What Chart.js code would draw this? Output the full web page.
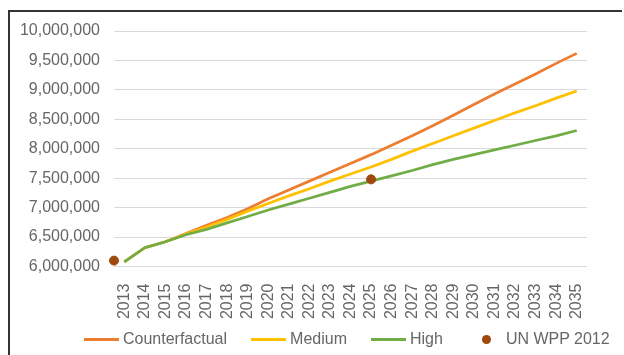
<!DOCTYPE html>
<html>
<head>
<meta charset="utf-8">
<script src="https://cdn.jsdelivr.net/npm/chart.js@4/dist/chart.umd.min.js"></script>
<style>
  html, body { margin: 0; padding: 0; background: #fff; }
  #wrap { position: relative; width: 624px; height: 355px; overflow: hidden; }
  #frame { position: absolute; left: 8px; top: 10px; width: 614px; height: 350px;
           border-left: 2px solid #333; border-top: 2px solid #333; box-sizing: border-box; }
  canvas { position: absolute; left: 0; top: 0; }
  #legend { position: absolute; left: 84px; top: 328px; height: 22px; display: flex; align-items: center;
            font-family: 'Liberation Sans', Arial, sans-serif; font-size: 16px; color: #666; white-space: nowrap; }
  .item { display: flex; align-items: center; }
  .swatch { width: 35px; height: 3px; margin-right: 4px; }
  .dot { width: 9px; height: 9px; border-radius: 50%; margin-left: 10px; margin-right: 15px; }
</style>
</head>
<body>
<div id="wrap">
  <div id="frame"></div>
  <canvas id="chart" width="624" height="355"></canvas>
  <div id="legend"></div>
</div>
<script>
// Population projections, 2013-2035
const years = [2013, 2014, 2015, 2016, 2017, 2018, 2019, 2020, 2021, 2022, 2023, 2024,
               2025, 2026, 2027, 2028, 2029, 2030, 2031, 2032, 2033, 2034, 2035];

const counterfactual = [6080000, 6320000, 6420000, 6560000, 6700000, 6830000, 6980000, 7150000,
                        7300000, 7450000, 7600000, 7750000, 7900000, 8060000, 8220000, 8390000,
                        8570000, 8750000, 8930000, 9100000, 9270000, 9450000, 9620000];

const medium = [6080000, 6320000, 6420000, 6550000, 6670000, 6800000, 6940000, 7070000,
                7200000, 7320000, 7450000, 7570000, 7690000, 7820000, 7960000, 8090000,
                8220000, 8350000, 8480000, 8610000, 8730000, 8860000, 8980000];

const high = [6080000, 6320000, 6420000, 6540000, 6630000, 6740000, 6850000, 6960000,
              7060000, 7160000, 7260000, 7360000, 7450000, 7540000, 7630000, 7730000,
              7820000, 7900000, 7980000, 8060000, 8140000, 8220000, 8310000];

// UN World Population Prospects (2012 revision) reference points
const unYears = [2012.5, 2025];
const unWpp = [6100000, 7480000];

const yTicks = [6000000, 6500000, 7000000, 7500000, 8000000, 8500000, 9000000, 9500000, 10000000];

const FONT = "'Liberation Sans', Arial, sans-serif";
const TEXT = '#666666';

const series = [
  { label: 'Counterfactual', data: counterfactual, color: '#ED7D31', order: 3 },
  { label: 'Medium', data: medium, color: '#FFC000', order: 2 },
  { label: 'High', data: high, color: '#70AD47', order: 1 }
];

const datasets = series.map(s => ({
  type: 'line',
  label: s.label,
  data: years.map((y, i) => ({ x: y, y: s.data[i] })),
  borderColor: s.color,
  backgroundColor: s.color,
  borderWidth: 2.75,
  pointRadius: 0,
  tension: 0,
  order: s.order
}));

datasets.push({
  type: 'scatter',
  label: 'UN WPP 2012',
  data: unYears.map((y, i) => ({ x: y, y: unWpp[i] })),
  backgroundColor: '#9E480E',
  borderColor: '#9E480E',
  pointRadius: 4.5,
  clip: false,
  order: 0
});

new Chart(document.getElementById('chart'), {
  type: 'line',
  data: { datasets },
  options: {
    responsive: false,
    animation: false,
    devicePixelRatio: 1,
    layout: { padding: { left: 0, right: 37, top: 31, bottom: 0 } },
    plugins: { legend: { display: false }, tooltip: { enabled: false } },
    scales: {
      x: {
        type: 'linear',
        min: 2012.5,
        max: 2035.5,
        grid: { display: false },
        border: { display: false },
        afterBuildTicks: s => { s.ticks = years.map(v => ({ value: v })); },
        afterFit: s => { s.height = 88.5; },
        ticks: {
          autoSkip: false,
          minRotation: 90,
          maxRotation: 90,
          padding: 9,
          color: TEXT,
          font: { family: FONT, size: 16 },
          callback: v => String(v)
        }
      },
      y: {
        min: 6000000,
        max: 10000000,
        afterBuildTicks: s => { s.ticks = yTicks.map(v => ({ value: v })); },
        afterFit: s => { s.width = 114; },
        grid: { color: '#D9D9D9', lineWidth: 1, drawTicks: false },
        border: { display: false },
        ticks: {
          padding: 14,
          color: TEXT,
          font: { family: FONT, size: 16 },
          callback: v => v.toLocaleString('en-US')
        }
      }
    }
  }
});

// Legend built from the same series definitions
const legend = document.getElementById('legend');
series.forEach((s, i) => {
  const item = document.createElement('div');
  item.className = 'item';
  item.style.marginRight = i === 2 ? '0px' : '24px';
  const sw = document.createElement('span');
  sw.className = 'swatch';
  sw.style.background = s.color;
  const tx = document.createElement('span');
  tx.textContent = s.label;
  item.appendChild(sw);
  item.appendChild(tx);
  legend.appendChild(item);
});
const un = document.createElement('div');
un.className = 'item';
un.style.marginLeft = '29px';
const dot = document.createElement('span');
dot.className = 'dot';
dot.style.background = '#9E480E';
const unText = document.createElement('span');
unText.textContent = 'UN WPP 2012';
un.appendChild(dot);
un.appendChild(unText);
legend.appendChild(un);
</script>
</body>
</html>
